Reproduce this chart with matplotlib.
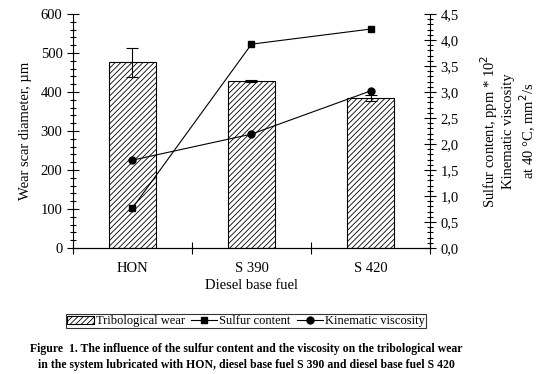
import numpy as np
import matplotlib.pyplot as plt
from matplotlib.ticker import MultipleLocator, FuncFormatter

plt.rcParams['font.family'] = ['Liberation Serif', 'DejaVu Serif']
plt.rcParams['hatch.linewidth'] = 0.6

# data
fuels = ['HON', 'S 390', 'S 420']
wear = [476, 429, 385]
wear_err = [38, 3, 8]
sulfur = [0.77, 3.92, 4.21]
viscosity = [1.69, 2.19, 3.02]

fig = plt.figure(figsize=(5.39, 3.74), dpi=100)
ax = fig.add_axes([0.1354, 0.3369, 0.7978 - 0.1354, 0.9626 - 0.3369])
x = np.arange(len(fuels))

bars = ax.bar(x, wear, width=0.40, color='white', edgecolor='black', linewidth=0.8,
              hatch='//////', yerr=wear_err, capsize=4,
              error_kw=dict(elinewidth=0.8, capthick=0.8), label='Tribological wear', zorder=2)
ax.set_xlim(-0.5, 2.5)
ax.set_ylim(0, 600)
ax.yaxis.set_major_locator(MultipleLocator(100))
ax.yaxis.set_minor_locator(MultipleLocator(20))
ax.tick_params(axis='y', which='major', direction='inout', length=8, width=0.8, labelsize=10.5)
ax.tick_params(axis='y', which='minor', direction='inout', length=5, width=0.8)
ax.set_xticks(x)
ax.set_xticklabels(fuels, fontsize=10.5)
ax.tick_params(axis='x', which='major', length=0, pad=10)
ax.set_xticks([-0.5, 0.5, 1.5, 2.5], minor=True)
ax.tick_params(axis='x', which='minor', direction='inout', length=8, width=0.8)
ax.set_xlabel('Diesel base fuel', fontsize=10.5, labelpad=3)
ax.set_ylabel('Wear scar diameter, µm', fontsize=10.5, labelpad=6)
ax.spines['top'].set_visible(False)
ax.spines['right'].set_visible(False)

ax2 = ax.twinx()
l1, = ax2.plot(x, sulfur, color='black', linewidth=0.8, marker='s', markersize=5, label='Sulfur content')
l2, = ax2.plot(x, viscosity, color='black', linewidth=0.8, marker='o', markersize=5, label='Kinematic viscosity')
ax2.set_ylim(0, 4.5)
ax2.yaxis.set_major_locator(MultipleLocator(0.5))
ax2.yaxis.set_minor_locator(MultipleLocator(0.1))
ax2.yaxis.set_major_formatter(FuncFormatter(lambda v, p: f'{v:.1f}'.replace('.', ',')))
ax2.tick_params(axis='y', which='major', direction='inout', length=8, width=0.8, labelsize=10.5)
ax2.tick_params(axis='y', which='minor', direction='inout', length=5, width=0.8)
ax2.spines['top'].set_visible(False)
ax2.spines['left'].set_visible(False)

# right axis title, three centred lines
fig.text(508 / 539, 1 - 131 / 374,
         'Sulfur content, ppm * 10$^{2}$\nKinematic viscosity\nat 40 °C, mm$^{2}$/s',
         rotation=90, ha='center', va='center', multialignment='center',
         fontsize=10.5, linespacing=1.15)

leg = fig.legend(handles=[bars, l1, l2], loc='center', bbox_to_anchor=(246 / 539, 1 - 321 / 374),
                 ncol=3, frameon=True, fancybox=False, edgecolor='black', fontsize=9,
                 handlelength=2.1, handletextpad=0.15, columnspacing=0.5, borderpad=0.1,
                 handleheight=0.6, borderaxespad=0)
leg.get_frame().set_linewidth(0.8)

fig.text(246 / 539, 1 - 349 / 374,
         'Figure  1. The influence of the sulfur content and the viscosity on the tribological wear',
         ha='center', va='center', fontsize=8.5, fontweight='bold')
fig.text(246 / 539, 1 - 365 / 374,
         'in the system lubricated with HON, diesel base fuel S 390 and diesel base fuel S 420',
         ha='center', va='center', fontsize=8.5, fontweight='bold')

fig.savefig('out.png', dpi=100)
